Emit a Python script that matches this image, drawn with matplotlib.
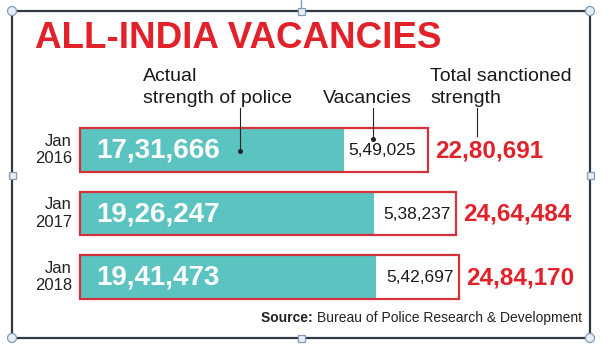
import matplotlib
matplotlib.use('Agg')
import matplotlib.pyplot as plt
from matplotlib import font_manager
from matplotlib.patches import Rectangle, Circle
from matplotlib.transforms import Affine2D

# data
years = ['Jan\n2016', 'Jan\n2017', 'Jan\n2018']
actual = [1731666, 1926247, 1941473]
vacancies = [549025, 538237, 542697]
sanctioned = [2280691, 2464484, 2484170]

TEAL = '#5cc4c0'
RED = '#e2222a'
BOXRED = '#d3323a'
FRAME = '#2f3a45'

W, H = 612, 351


def indian(n):
    '''format a number with Indian digit grouping (17,31,666)'''
    s = str(n)
    head, tail = s[:-3], s[-3:]
    parts = []
    while len(head) > 2:
        parts.insert(0, head[-2:])
        head = head[:-2]
    if head:
        parts.insert(0, head)
    return ','.join(parts + [tail])


names = {f.name for f in font_manager.fontManager.ttflist}
BODY = 'Liberation Sans' if 'Liberation Sans' in names else 'DejaVu Sans'
plt.rcParams['font.family'] = [BODY, 'DejaVu Sans']

fig = plt.figure(figsize=(W / 100, H / 100), dpi=100)
fig.patch.set_facecolor('white')
ax = fig.add_axes([0, 0, 1, 1])
ax.set_axis_off()

# pixel transform (origin top-left) for the decorations
pix = Affine2D().scale(1, -1).translate(0, H)

# scale: 0 sits at px 80, 15.26 px per lakh
k = 15.26 / 1e5
ax.set_xlim(-80 / k, (W - 80) / k)
ax.set_ylim(3.165, -2.362)

rows = list(range(len(years)))
bh = 0.69
ax.barh(rows, sanctioned, height=bh, color='white', zorder=1)
ax.barh(rows, actual, height=bh, color=TEAL, zorder=2)
ax.barh(rows, sanctioned, height=bh, fill=False, edgecolor=BOXRED, lw=1.6, zorder=3)

for i in rows:
    ax.text(-8 / k, i, years[i], ha='right', va='center', fontsize=12,
            linespacing=1.2, color='#222222')
    ax.annotate(indian(actual[i]), xy=(0, i), xytext=(12, -0.5), textcoords='offset points',
                ha='left', va='center', fontsize=20, fontweight='bold', color='white', zorder=4)
    ax.annotate(indian(vacancies[i]), xy=(actual[i] + vacancies[i] / 2, i),
                xytext=(-3 if i == 0 else 1.5, -0.5),
                textcoords='offset points', ha='center', va='center', fontsize=12.5,
                color='#1a1a1a', zorder=4)
    ax.annotate(indian(sanctioned[i]), xy=(sanctioned[i], i), xytext=(5, -0.5),
                textcoords='offset points', ha='left', va='center', fontsize=17.5,
                fontweight='bold', color=RED, zorder=4)

# title
ax.text(35, 38, 'ALL-INDIA VACANCIES', transform=pix, ha='left', va='center',
        fontsize=26.5, fontweight='bold', color=RED)

# column labels
lab = dict(transform=pix, ha='left', va='baseline', fontsize=14, color='#1a1a1a')
ax.text(143, 81, 'Actual', **lab)
ax.text(143, 103, 'strength of police', **lab)
ax.text(323, 103, 'Vacancies', **lab)
ax.text(430, 81, 'Total sanctioned', **lab)
ax.text(430, 103, 'strength', **lab)

# leader lines
for x0, y1, dot in [(240, 151, True), (373, 139, True), (477, 136, False)]:
    ax.plot([x0, x0], [108, y1], color='#222222', lw=0.8, transform=pix, zorder=5)
    if dot:
        ax.plot([x0], [y1], 'o', ms=2.6, color='#222222', transform=pix, zorder=5)

# source
src = ax.text(582, 318, 'Bureau of Police Research & Development', transform=pix,
              ha='right', va='center', fontsize=10, color='#222222')
ax.annotate('Source: ', xy=(0, 0.5), xycoords=src, ha='right', va='center',
            fontsize=10, fontweight='bold', color='#222222')

# frame with selection handles
ax.add_patch(Rectangle((12, 11), 578, 327, fill=False, edgecolor=FRAME, lw=1.6,
                       transform=pix, zorder=6, clip_on=False))
ax.plot([301, 301], [0, 11], color='#7f9db9', lw=1, transform=pix, zorder=6)
for cx, cy in [(12, 11), (590, 11), (12, 338), (590, 338)]:
    ax.add_patch(Circle((cx, cy), 4.5, facecolor='#e6eef6', edgecolor='#7f9db9',
                        lw=0.9, transform=pix, zorder=7, clip_on=False))
for cx, cy in [(301, 11), (301, 338), (12, 175), (590, 175)]:
    ax.add_patch(Rectangle((cx - 3.5, cy - 3.5), 7, 7, facecolor='#e6eef6',
                           edgecolor='#7f9db9', lw=0.9, transform=pix, zorder=7,
                           clip_on=False))

fig.savefig('out.png', dpi=100, facecolor='white')
